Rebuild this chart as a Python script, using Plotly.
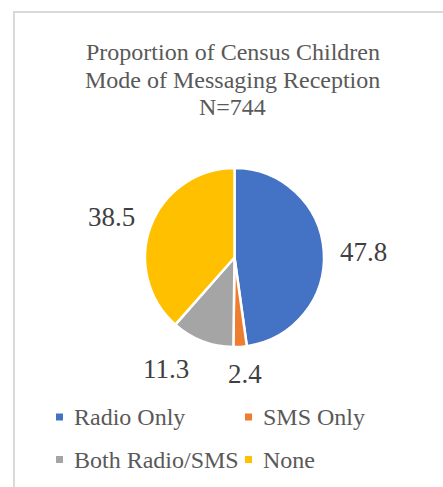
import math
import plotly.graph_objects as go

# Chart data
categories = ["Radio Only", "SMS Only", "Both Radio/SMS", "None"]
percentages = [47.8, 2.4, 11.3, 38.5]
colors = ["#4472C4", "#ED7D31", "#A5A5A5", "#FFC000"]
title_lines = ["Proportion of Census Children", "Mode of Messaging Reception", "N=744"]

W, H = 443, 487
SERIF = "Liberation Serif"

# Pie geometry in pixels
cx, cy, R = 234.5, 257.5, 89.5
label_fs = 27
label_pad = 16
# small manual shifts (px) applied to individual value labels
label_nudge = [(0, 3), (3, 1.5), (-24, -3), (-1, 6)]


def px(x):
    return x / W


def py(y):
    return 1 - y / H


fig = go.Figure()
fig.add_trace(go.Pie(
    labels=categories,
    values=percentages,
    marker=dict(colors=colors, line=dict(color="white", width=2.5)),
    sort=False,
    direction="clockwise",
    rotation=0,
    textinfo="none",
    hoverinfo="label+value",
    showlegend=False,
    domain=dict(x=[px(cx - R), px(cx + R)], y=[py(cy + R), py(cy - R)]),
))

annotations = []
shapes = []

# Title, one annotation per line
title_centers = [52, 80.5, 107]
for text, yc in zip(title_lines, title_centers):
    annotations.append(dict(
        text=text, x=px(233), y=py(yc), xref="paper", yref="paper",
        xanchor="center", yanchor="middle", showarrow=False,
        font=dict(family=SERIF, size=24, color="#595959"),
    ))

# Value labels placed just outside each slice, along its mid-angle
total = sum(percentages)
cum = 0.0
for i, v in enumerate(percentages):
    mid = (cum + v / 2) / total * 2 * math.pi
    cum += v
    s, c = math.sin(mid), math.cos(mid)
    text = f"{v:.1f}"
    ndig = sum(ch.isdigit() for ch in text)
    half_w = label_fs * (0.5 * ndig + 0.25 * text.count(".")) / 2
    half_h = label_fs * 0.34
    dist = R + label_pad + half_w * abs(s) + half_h * abs(c)
    lx = cx + dist * s + label_nudge[i][0]
    ly = cy - dist * c + label_nudge[i][1]
    annotations.append(dict(
        text=text, x=px(lx), y=py(ly), xref="paper", yref="paper",
        xanchor="center", yanchor="middle", showarrow=False,
        font=dict(family=SERIF, size=label_fs, color="#404040"),
    ))

# Legend: two columns, two rows
col_x = [59.5, 248.5]
row_y = [417, 459.5]
sq = 7
for i, (name, col) in enumerate(zip(categories, colors)):
    mx = col_x[i % 2]
    my = row_y[i // 2]
    shapes.append(dict(
        type="rect", xref="paper", yref="paper",
        x0=px(mx - sq / 2), x1=px(mx + sq / 2),
        y0=py(my + sq / 2), y1=py(my - sq / 2),
        fillcolor=col, line=dict(width=0),
    ))
    annotations.append(dict(
        text=name, x=px(mx + 12.5), y=py(my), xref="paper", yref="paper",
        xanchor="left", yanchor="middle", showarrow=False,
        font=dict(family=SERIF, size=24, color="#595959"),
    ))

# Chart area frame
shapes.append(dict(
    type="rect", xref="paper", yref="paper",
    x0=px(14), x1=1.1, y0=-0.1, y1=py(12),
    line=dict(color="#D9D9D9", width=2), fillcolor="rgba(0,0,0,0)",
    layer="below",
))

fig.update_layout(
    width=W, height=H,
    margin=dict(l=0, r=0, t=0, b=0),
    paper_bgcolor="white",
    plot_bgcolor="white",
    annotations=annotations,
    shapes=shapes,
)

fig.write_html("out.html")
